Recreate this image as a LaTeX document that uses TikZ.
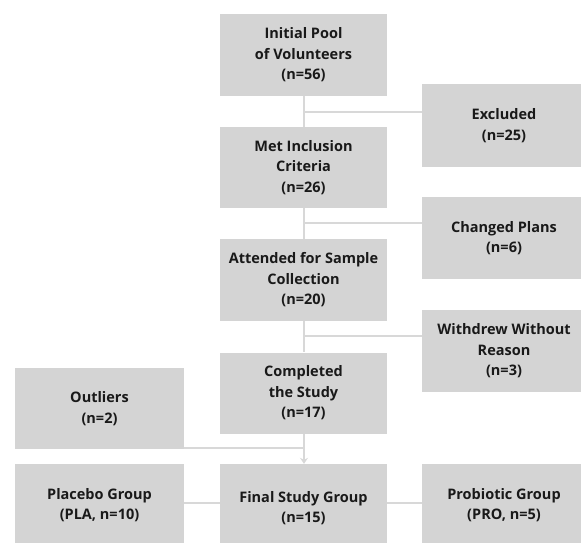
\documentclass[tikz,border=0pt]{standalone}
\usepackage{fontspec}
\setmainfont{Open Sans}
\usetikzlibrary{arrows.meta}
\definecolor{boxfill}{RGB}{212,212,212}
\definecolor{linegray}{RGB}{216,216,216}
\definecolor{txt}{RGB}{25,25,25}
\begin{document}
\begin{tikzpicture}[x=1pt,y=-1pt,
  box/.style={rectangle,fill=boxfill,draw=none,align=center,inner sep=0pt,
    font=\fontsize{14.5}{20.5}\selectfont\bfseries,text=txt},
  conn/.style={draw=linegray,line width=2pt}]
\clip (0,0) rectangle (581,542);
\fill[white] (0,0) rectangle (581,542);
% main column
\node[box,minimum width=167pt,minimum height=82pt] (init) at (303.5,55) {Initial Pool\\of Volunteers\\(n=56)};
\node[box,minimum width=167pt,minimum height=81pt] (met) at (303.5,167.5) {Met Inclusion\\Criteria\\(n=26)};
\node[box,minimum width=167pt,minimum height=82pt] (att) at (303.5,280) {Attended for Sample\\Collection\\(n=20)};
\node[box,minimum width=167pt,minimum height=81pt] (comp) at (303.5,393) {Completed\\the Study\\(n=17)};
\node[box,minimum width=167pt,minimum height=88pt] (final) at (303.5,508) {Final Study Group\\(n=15)};
% right column
\node[box,minimum width=164pt,minimum height=83pt] (excl) at (504,125.5) {Excluded\\(n=25)};
\node[box,minimum width=164pt,minimum height=82pt] (chg) at (504,238) {Changed Plans\\(n=6)};
\node[box,minimum width=164pt,minimum height=82pt] (wd) at (504,351) {Withdrew Without\\Reason\\(n=3)};
\node[box,minimum width=164pt,minimum height=82pt] (prob) at (504,505) {Probiotic Group\\(PRO, n=5)};
% left column
\node[box,minimum width=169pt,minimum height=81pt] (out) at (99.5,408.5) {Outliers\\(n=2)};
\node[box,minimum width=169pt,minimum height=82pt] (plac) at (99.5,505) {Placebo Group\\(PLA, n=10)};
% branch points
\coordinate (b1) at (304,112);
\coordinate (b2) at (304,223);
\coordinate (b3) at (304,336);
\coordinate (b4) at (304,448);
\coordinate (b5) at (304,503);
% connectors
\draw[conn] (init.south -| b1) -- (met.north -| b1);
\draw[conn] (b1) -- (b1 -| excl.west);
\draw[conn] (met.south -| b2) -- (att.north -| b2);
\draw[conn] (b2) -- (b2 -| chg.west);
\draw[conn] (att.south -| b3) -- (comp.north -| b3);
\draw[conn] (b3) -- (b3 -| wd.west);
\draw[conn,-{Stealth[length=6pt,width=8pt]}] (comp.south -| b4) -- (final.north -| b4);
\draw[conn] (b4 -| out.east) -- (b4);
\draw[conn] (b5 -| plac.east) -- (b5 -| final.west);
\draw[conn] (b5 -| final.east) -- (b5 -| prob.west);
\end{tikzpicture}
\end{document}
